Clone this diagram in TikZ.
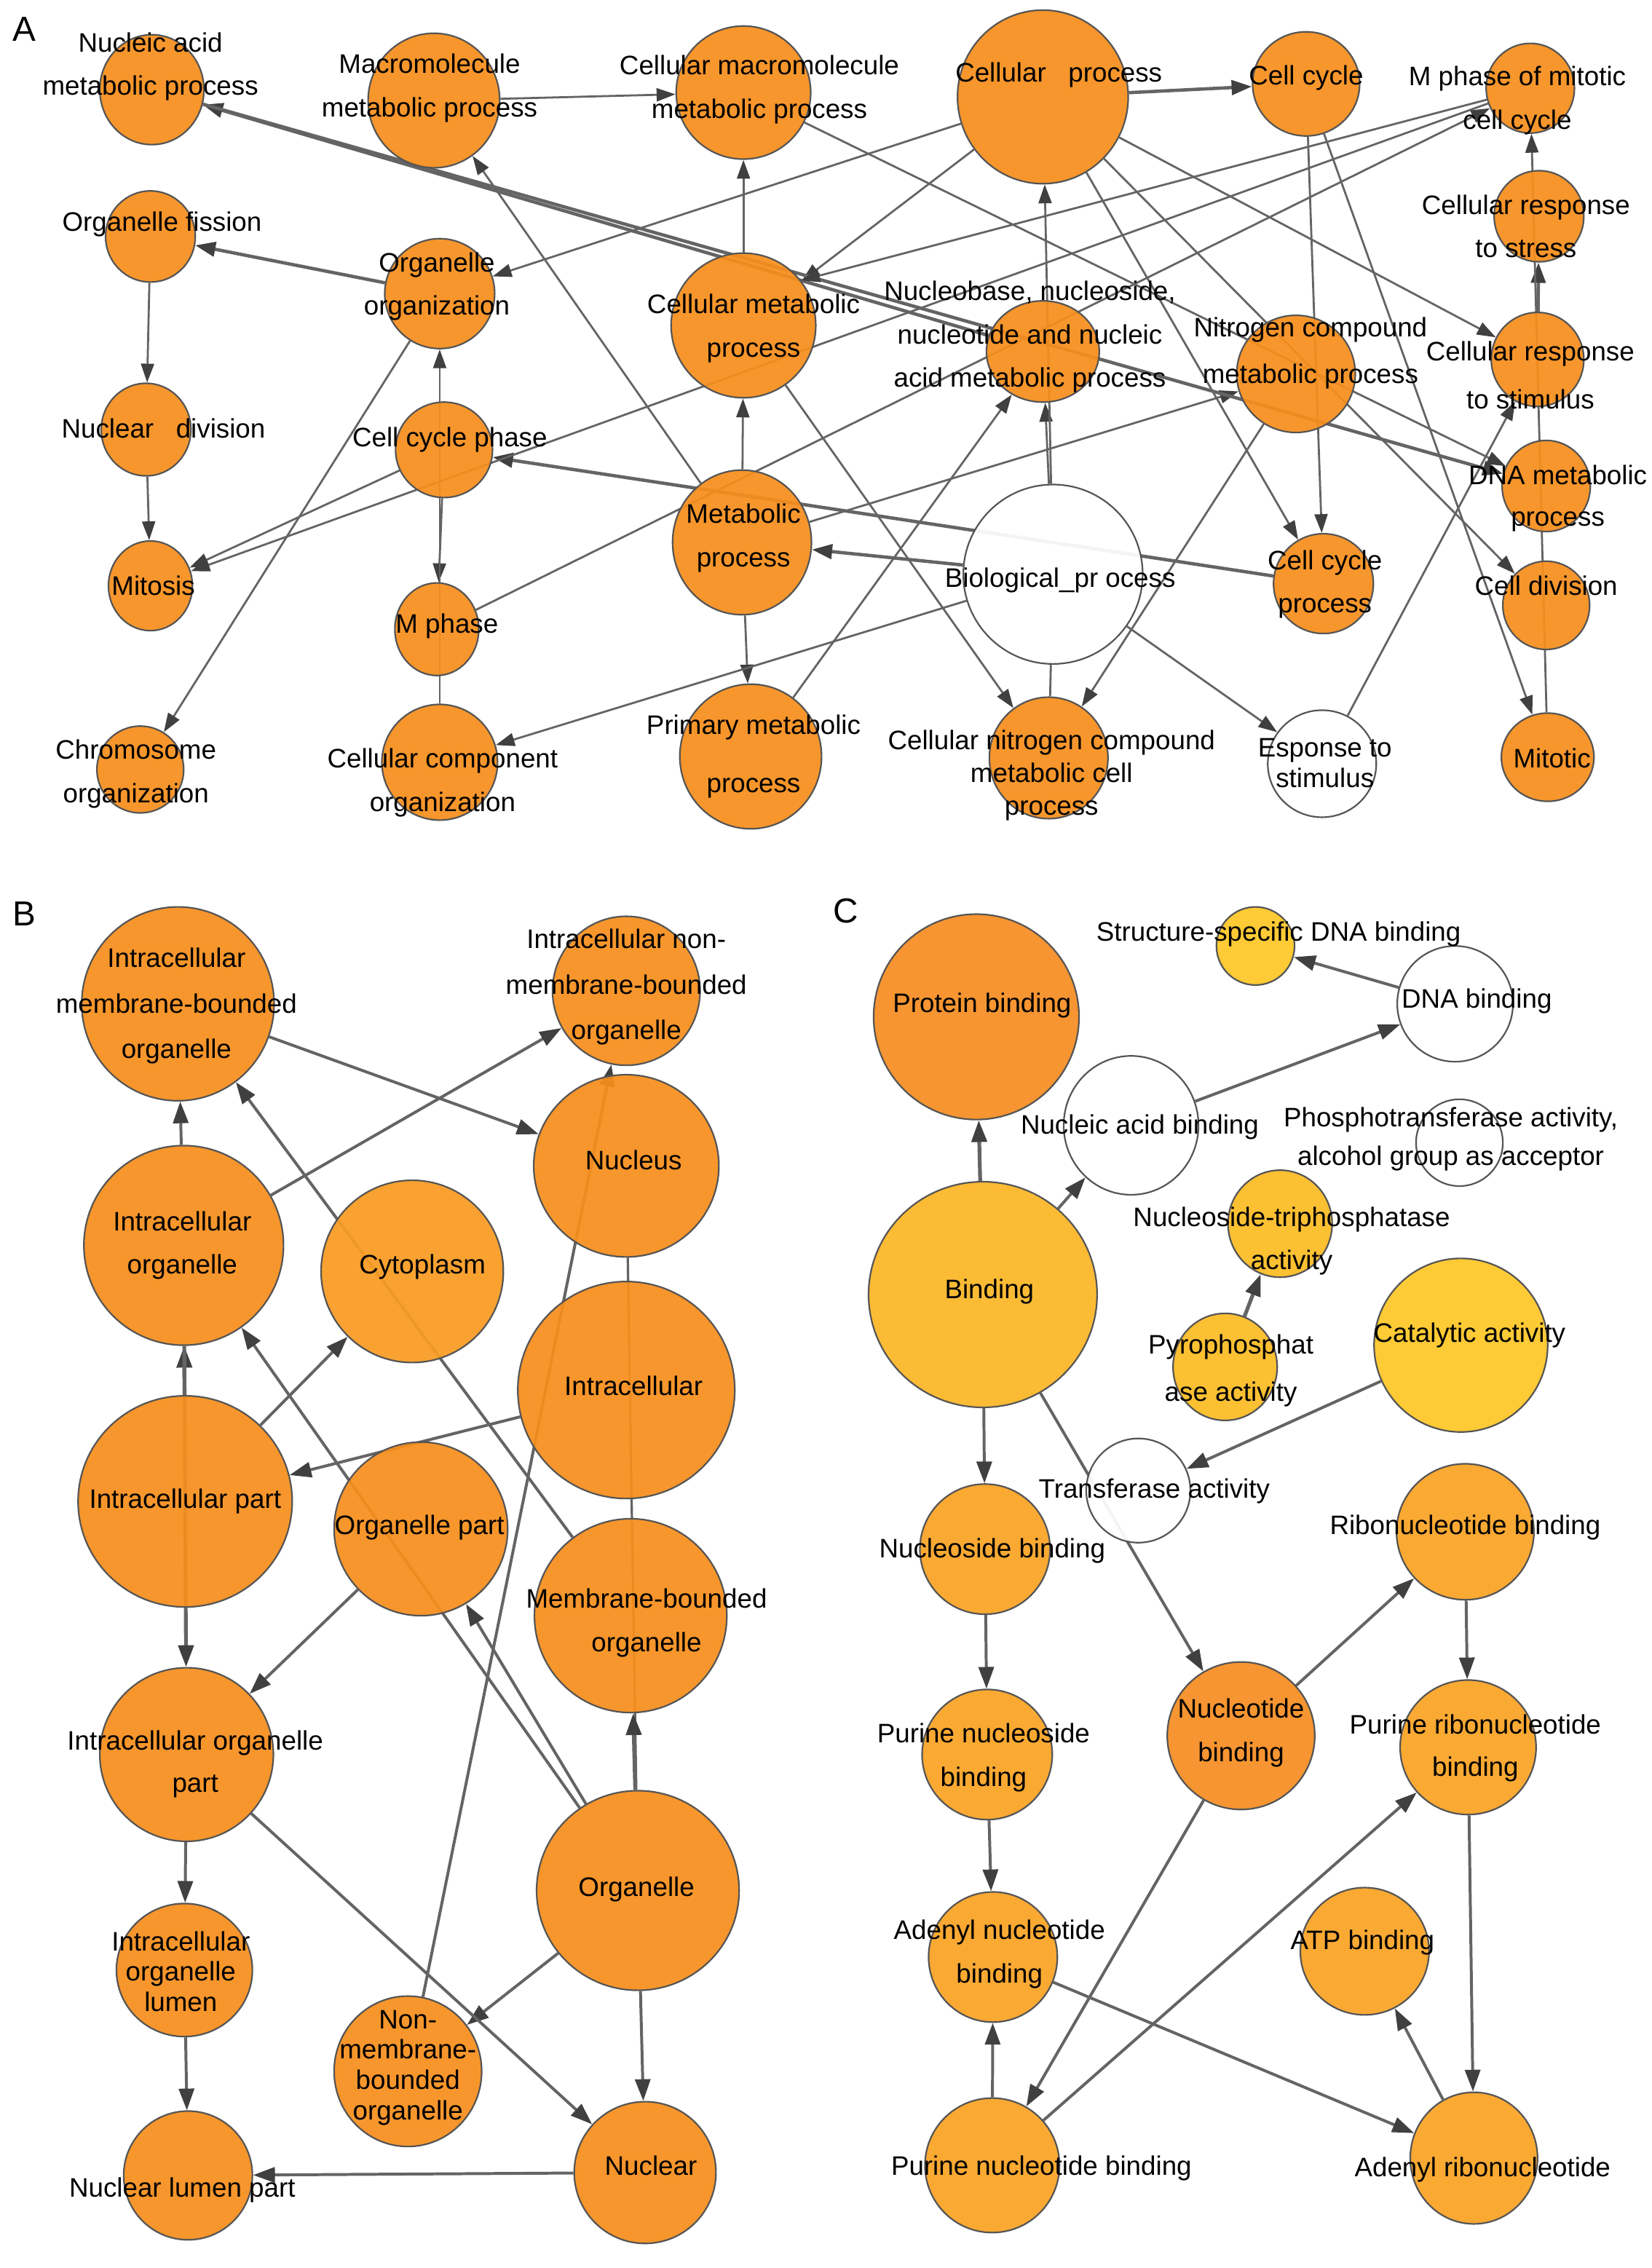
\documentclass[tikz,border=0pt]{standalone}
\usepackage{fontspec}
\setmainfont{Liberation Sans}
\usetikzlibrary{shapes.geometric,arrows.meta}
\definecolor{orA}{RGB}{247,143,28}
\definecolor{orL}{RGB}{249,156,34}
\definecolor{orC}{RGB}{250,163,36}
\definecolor{orD}{RGB}{246,141,34}
\definecolor{ylB}{RGB}{252,182,38}
\definecolor{ylY}{RGB}{254,198,38}
\definecolor{ylN}{RGB}{252,188,36}
\definecolor{nodeline}{RGB}{85,85,85}
\definecolor{edgecol}{RGB}{100,100,100}
\definecolor{arrowcol}{RGB}{64,64,64}
\pgfdeclarelayer{bg}
\pgfsetlayers{bg,main}
\tikzset{
  gon/.style={ellipse, draw=nodeline, line width=1.1pt, fill opacity=0.93, inner sep=0pt},
  lbl/.style={font=\fontsize{18.5}{#1}\selectfont, align=center, inner sep=0pt, text=black},
  lbl/.default=30,
  plet/.style={font=\fontsize{24}{28}\selectfont, inner sep=0pt},
  ea/.style={draw=edgecol, line width=1.4pt, -{Triangle[length=13pt,width=9pt,color=arrowcol]}},
  eat/.style={draw=edgecol, line width=2.3pt, -{Triangle[length=14pt,width=10pt,color=arrowcol]}},
  eplain/.style={draw=edgecol, line width=1.4pt},
  eb/.style={draw=edgecol, line width=2pt, -{Triangle[length=15pt,width=10.5pt,color=arrowcol]}},
  ebt/.style={draw=edgecol, line width=2.6pt, -{Triangle[length=15pt,width=10.5pt,color=arrowcol]}},
  ebplain/.style={draw=edgecol, line width=1.6pt},
}
\newcommand\gnode[6]{\node[gon,fill=#6,minimum width={2*#4pt},minimum height={2*#5pt}] (#1) at (#2,#3) {};}
\begin{document}
\begin{tikzpicture}[x=1pt,y=-1pt]
\useasboundingbox (0,0) rectangle (1142,1568);
% ---------------- Panel A nodes
\gnode{nap}{105}{62}{36}{38}{orA}
\gnode{mmp}{300}{69.5}{45.5}{46.5}{orA}
\gnode{cmmp}{514}{64}{46.5}{46}{orA}
\gnode{cp}{721}{67}{59}{60}{orA}
\gnode{cc}{903}{58}{37}{36}{orA}
\gnode{mpmc}{1058}{61}{30.5}{31}{orA}
\gnode{crs}{1064}{149.5}{31}{31.5}{orA}
\gnode{crst}{1063}{248.5}{32}{32.5}{orA}
\gnode{nnn}{721}{243}{39}{35}{orA}
\gnode{ncmp}{896}{258.5}{41}{40.5}{orA}
\gnode{cmp}{514}{225}{50}{50}{orA}
\gnode{of}{104}{163.5}{31}{31.5}{orA}
\gnode{oo}{304}{203}{38}{38}{orA}
\gnode{nd}{101}{297}{31}{32}{orA}
\gnode{ccp}{307}{311}{33.5}{33}{orA}
\gnode{mit}{104}{405}{29}{31}{orA}
\gnode{mph}{302}{435}{29}{32}{orA}
\gnode{chr}{97}{532}{30}{30}{orA}
\gnode{cco}{304}{527}{40}{40}{orA}
\gnode{mp}{513}{375}{48}{50}{orA}
\gnode{pmp}{519}{523}{49}{50}{orA}
\gnode{bp}{728}{397}{62}{62}{white}
\gnode{ccpr}{915}{403.5}{34.5}{34.5}{orA}
\gnode{dna}{1069}{336}{30.5}{31.5}{orA}
\gnode{cdiv}{1069}{418.5}{30}{30.5}{orA}
\gnode{mitotic}{1070}{523.5}{32}{30.5}{orA}
\gnode{cncm}{725}{524}{41}{42}{orA}
\gnode{ers}{914}{528}{37.5}{37}{white}
% labels A
\node[plet] (lA) at (17,20) {A};
\node[lbl] (t-nap) at (104,46) {Nucleic acid\\metabolic process};
\node[lbl] (t-mmp) at (297,61) {Macromolecule\\metabolic process};
\node[lbl] (t-cmmp) at (525,62) {Cellular macromolecule\\metabolic process};
\node[lbl] (t-cp) at (732,52) {Cellular\ \ \ process};
\node[lbl] (t-cc) at (903,54) {Cell cycle};
\node[lbl] (t-mpmc) at (1049,69.5) {M phase of mitotic\\cell cycle};
\node[lbl] (t-crs) at (1055,156.5) {Cellular response\\to stress};
\node[lbl=33] (t-crst) at (1058,259.5) {Cellular response\\to stimulus};
\node[lbl] (t-nnn) at (712,233) {Nucleobase, nucleoside,\\nucleotide and nucleic\\acid metabolic process};
\node[lbl=32] (t-ncmp) at (906,244) {Nitrogen compound\\metabolic process};
\node[lbl] (t-cmp) at (521,227) {Cellular metabolic\\process};
\node[lbl] (t-of) at (112,155) {Organelle fission};
\node[lbl] (t-oo) at (302,198) {Organelle\\organization};
\node[lbl] (t-nd) at (113,296) {Nuclear\ \ \ division};
\node[lbl] (t-ccp) at (311,304) {Cell cycle phase};
\node[lbl] (t-mit) at (106,405) {Mitosis};
\node[lbl] (t-mph) at (309,433) {M phase};
\node[lbl] (t-chr) at (94,535) {Chromosome\\organization};
\node[lbl] (t-cco) at (306,541) {Cellular component\\organization};
\node[lbl] (t-mp) at (514,372) {Metabolic\\process};
\node[lbl=40] (t-pmp) at (521,523) {Primary metabolic\\process};
\node[lbl] (t-bp) at (733,401) {Biological\_pr ocess};
\node[lbl] (t-ccpr) at (916,404) {Cell cycle\\process};
\node[lbl=29] (t-dna) at (1077,344.5) {DNA metabolic\\process};
\node[lbl] (t-cdiv) at (1069,405) {Cell division};
\node[lbl] (t-mitotic) at (1073,524) {Mitotic};
\node[lbl=22.5] (t-cncm) at (727,536) {Cellular nitrogen compound\\metabolic cell\\process};
\node[lbl=21] (t-ers) at (916,527.5) {Esponse to\\stimulus};
% ---------------- Panel B nodes
\gnode{imbo}{123}{694}{66.5}{67}{orA}
\gnode{inmbo}{433}{685}{51}{51.5}{orA}
\gnode{io}{127}{861}{69}{69}{orA}
\gnode{cyto}{285}{879}{63}{63}{orL}
\gnode{nucleus}{433}{806}{64}{63}{orA}
\gnode{intra}{433}{961}{75}{75}{orA}
\gnode{ip}{128}{1038}{74}{73}{orA}
\gnode{op}{291}{1057}{60}{60}{orA}
\gnode{mbo}{436}{1117}{66.5}{67}{orA}
\gnode{iop}{129}{1213}{60}{60}{orA}
\gnode{orgl}{441}{1307}{70}{69}{orA}
\gnode{iol}{127.5}{1362}{47}{46}{orA}
\gnode{nmbo}{282}{1432}{51}{52}{orA}
\gnode{nlp}{130}{1504}{44.5}{44.5}{orA}
\gnode{nuclear}{446}{1502}{49}{49}{orA}
\node[plet] (lB) at (17,632) {B};
\node[lbl=31.5] (t-imbo) at (122,695.5) {Intracellular\\membrane-bounded\\organelle};
\node[lbl=31.5] (t-inmbo) at (433,682.5) {Intracellular non-\\membrane-bounded\\organelle};
\node[lbl] (t-io) at (126,861) {Intracellular\\organelle};
\node[lbl] (t-cyto) at (292,876) {Cytoplasm};
\node[lbl] (t-nucleus) at (438,802) {Nucleus};
\node[lbl] (t-intra) at (438,958) {Intracellular};
\node[lbl] (t-ip) at (128,1038) {Intracellular part};
\node[lbl] (t-op) at (290,1056) {Organelle part};
\node[lbl] (t-mbo) at (447,1122) {Membrane-bounded\\organelle};
\node[lbl=29] (t-iop) at (135,1219.5) {Intracellular organelle\\part};
\node[lbl] (t-orgl) at (440,1306) {Organelle};
\node[lbl=21] (t-iol) at (125,1363) {Intracellular\\organelle\\lumen};
\node[lbl=21] (t-nmbo) at (282,1429.5) {Non-\\membrane-\\bounded\\organelle};
\node[lbl] (t-nlp) at (126,1514) {Nuclear lumen part};
\node[lbl] (t-nuclear) at (450,1497) {Nuclear};
% ---------------- Panel C nodes
\gnode{pb}{675}{703}{71}{71}{orD}
\gnode{binding}{679.5}{895}{79}{78}{ylB}
\gnode{ssdb}{868}{654}{27}{27}{ylY}
\gnode{dnab}{1006}{694}{40}{40}{white}
\gnode{nab}{782}{778}{46.6}{48}{white}
\gnode{pta}{1009}{790}{30}{30}{white}
\gnode{ntp}{885}{846}{36}{37}{ylN}
\gnode{pyro}{847}{945}{36}{37}{ylN}
\gnode{cat}{1010}{930}{60}{60}{ylY}
\gnode{trans}{787}{1030.5}{36}{36}{white}
\gnode{nsb}{681}{1071}{45}{45}{orC}
\gnode{ribo}{1013}{1059}{47.5}{47}{orC}
\gnode{ntb}{858}{1200}{51}{51}{orD}
\gnode{pnsb}{682.5}{1213}{45}{45}{orC}
\gnode{prb}{1015}{1208}{47}{46.5}{orC}
\gnode{anb}{686.5}{1353}{44.5}{45}{orC}
\gnode{atp}{943.5}{1349}{44.5}{44}{orC}
\gnode{pntb}{686}{1497}{46.5}{46.5}{orC}
\gnode{arb}{1019}{1492}{44}{45.5}{orC}
\node[plet] (lC) at (585,630) {C};
\node[lbl] (t-pb) at (679,695) {Protein binding};
\node[lbl] (t-binding) at (684,893) {Binding};
\node[lbl] (t-ssdb) at (884,646) {Structure-specific DNA binding};
\node[lbl] (t-dnab) at (1021,692) {DNA binding};
\node[lbl] (t-nab) at (788,779) {Nucleic acid binding};
\node[lbl=27] (t-pta) at (1003,787.5) {Phosphotransferase activity,\\alcohol group as acceptor};
\node[lbl] (t-ntp) at (893,858) {Nucleoside-triphosphatase\\activity};
\node[lbl=33] (t-pyro) at (851,947.5) {Pyrophosphat\\ase activity};
\node[lbl] (t-cat) at (1016,923) {Catalytic activity};
\node[lbl] (t-trans) at (798,1031) {Transferase activity};
\node[lbl] (t-nsb) at (686,1072) {Nucleoside binding};
\node[lbl] (t-ribo) at (1013,1056) {Ribonucleotide binding};
\node[lbl] (t-ntb) at (858,1198) {Nucleotide\\binding};
\node[lbl] (t-pnsb) at (680,1215) {Purine nucleoside\\binding};
\node[lbl=29] (t-prb) at (1020,1208.5) {Purine ribonucleotide\\binding};
\node[lbl] (t-anb) at (691,1351) {Adenyl nucleotide\\binding};
\node[lbl] (t-atp) at (942,1343) {ATP binding};
\node[lbl] (t-pntb) at (720,1499) {Purine nucleotide binding};
\node[lbl] (t-arb) at (1025,1500) {Adenyl ribonucleotide};
% ---------------- edges
\begin{pgfonlayer}{bg}
\fill[white] (0,0) rectangle (1142,1568);
% A
\draw[ea] (mmp) -- (cmmp);
\draw[ea] (cmp) -- (cmmp);
\draw[ea] (mp) -- (cmp);
\draw[ea] (mp) -- (mmp);
\draw[ea] (mp) -- (pmp);
\draw[ea] (mp) -- (ncmp);
\draw[eat] (bp) -- (mp);
\draw[ea] (bp) -- (cco);
\draw[ea] (bp) -- (ers);
\draw[ea] (bp) -- (nnn);
\draw[ea] (bp) -- (cp);
\draw[eplain] (bp) -- (cncm);
\draw[eat] (cp) -- (cc);
\draw[ea] (cp) -- (oo);
\draw[ea] (cp) -- (cmp);
\draw[ea] (cp) -- (ccpr);
\draw[ea] (cp) -- (crst);
\draw[ea] (cp) -- (cdiv);
\draw[ea] (cc) -- (ccpr);
\draw[ea] (cc) -- (mitotic);
\draw[eat] (nnn) -- (nap);
\draw[eat] (nap) -- (dna);
\draw[ea] (cmmp) -- (dna);
\draw[ea] (pmp) -- (nnn);
\draw[ea] (ncmp) -- (cncm);
\draw[ea] (cmp) -- (cncm);
\draw[eat] (ccpr) -- (ccp);
\draw[ea] (ccp) -- (mph);
\draw[ea] (cco) -- (oo);
\draw[ea] (ccp) -- (mit);
\draw[ea] (mpmc) -- (mit);
\draw[ea] (mph) -- (mpmc);
\draw[ea] (mpmc) -- (cmp.38);
\draw[eat] (oo) -- (of);
\draw[ea] (oo) -- (chr);
\draw[ea] (of) -- (nd);
\draw[ea] (nd) -- (mit);
\draw[ea] (ers) -- (crst);
\draw[eat] (crst) -- (crs);
\draw[ea] (mitotic) -- (mpmc);
% B
\draw[eb] (io) -- (imbo);
\draw[eb] (imbo) -- (nucleus);
\draw[eb] (io) -- (inmbo);
\draw[eb] (mbo) -- (imbo);
\draw[ebt] (ip) -- (io);
\draw[eb] (orgl) -- (op);
\draw[eb] (orgl) -- (io);
\draw[eb] (ip) -- (cyto);
\draw[eb] (intra) -- (ip);
\draw[ebplain] (nucleus) -- (orgl);
\draw[ebt] (orgl) -- (mbo);
\draw[eb] (nmbo) -- (inmbo);
\draw[eb] (orgl) -- (nmbo);
\draw[eb] (orgl) -- (nuclear);
\draw[eb] (iop) -- (nuclear);
\draw[eb] (op) -- (iop);
\draw[ebt] (io) -- (iop);
\draw[eb] (iop) -- (iol);
\draw[eb] (iol) -- (nlp);
\draw[eb] (nuclear) -- (nlp);
% C
\draw[ebt] (binding) -- (pb);
\draw[eb] (binding) -- (nab);
\draw[eb] (nab) -- (dnab);
\draw[eb] (dnab) -- (ssdb);
\draw[ebt] (pyro) -- (ntp);
\draw[eb] (cat) -- (trans);
\draw[eb] (binding) -- (nsb);
\draw[eb] (binding) -- (ntb);
\draw[eb] (nsb) -- (pnsb);
\draw[eb] (pnsb) -- (anb);
\draw[eb] (pntb) -- (anb);
\draw[eb] (ntb) -- (pntb);
\draw[eb] (ntb) -- (ribo);
\draw[eb] (ribo) -- (prb);
\draw[eb] (pntb) -- (prb);
\draw[eb] (prb) -- (arb);
\draw[eb] (anb) -- (arb);
\draw[eb] (arb) -- (atp);
\end{pgfonlayer}
\end{tikzpicture}
\end{document}
